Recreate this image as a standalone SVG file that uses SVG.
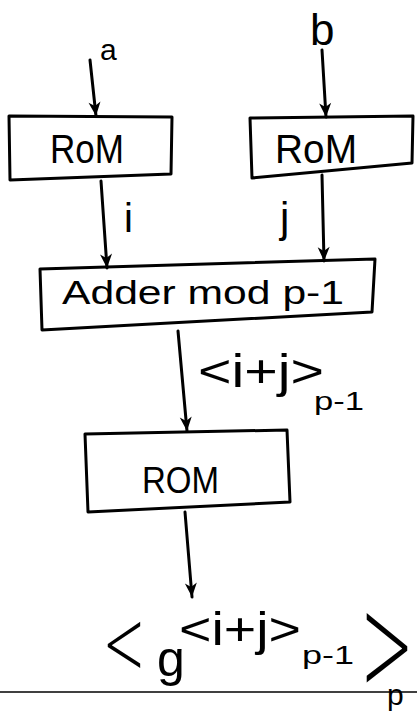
<svg xmlns="http://www.w3.org/2000/svg" width="417" height="713" viewBox="0 0 417 713">
<style>
.box{fill:none;stroke:#000;stroke-width:3;stroke-linejoin:round}
.wire{fill:none;stroke:#000;stroke-width:3;stroke-linecap:round}
.t{font-family:"Liberation Sans","DejaVu Sans",sans-serif;fill:#000}
.br{font-family:"Open Sans","Liberation Sans",sans-serif;font-weight:300;fill:#000}
</style>
<defs>
<marker id="ah" markerUnits="userSpaceOnUse" markerWidth="16" markerHeight="16" viewBox="0 0 16 16" refX="15" refY="8" orient="auto">
<path d="M1,2 L15,8 L1,14 L5,8 Z" fill="#000"/>
</marker>
</defs>
<rect width="417" height="713" fill="#fff"/>
<g id="rom-a">
<polygon class="box" points="9,116 172,117 171,174 10,180"/>
<text class="t" x="50" y="163" font-size="40" textLength="74" lengthAdjust="spacingAndGlyphs">RoM</text>
</g>
<g id="rom-b">
<polygon class="box" points="250,118 413,116 412,163 252,178"/>
<text class="t" x="275" y="163" font-size="40" textLength="82" lengthAdjust="spacingAndGlyphs">RoM</text>
</g>
<g id="adder">
<polygon class="box" points="40,269 375,259 372,312 42,330"/>
<text class="t" x="62" y="304" font-size="34" textLength="282" lengthAdjust="spacingAndGlyphs">Adder mod p-1</text>
</g>
<g id="rom-out">
<polygon class="box" points="85,434 287,430 290,502 88,512"/>
<text class="t" x="142" y="493" font-size="36" textLength="77" lengthAdjust="spacingAndGlyphs">ROM</text>
</g>
<g id="connectors">
<path class="wire" d="M90,60 L96,116" marker-end="url(#ah)"/>
<path class="wire" d="M322,50 L326,117" marker-end="url(#ah)"/>
<path class="wire" d="M101,181 L107,268" marker-end="url(#ah)"/>
<path class="wire" d="M322,175 L324,261" marker-end="url(#ah)"/>
<path class="wire" d="M178,331 L187,431" marker-end="url(#ah)"/>
<path class="wire" d="M185,512 L192,597" marker-end="url(#ah)"/>
</g>
<g id="labels">
<text class="t" x="100" y="60" font-size="30">a</text>
<text class="t" x="310" y="45" font-size="44">b</text>
<text class="t" x="124" y="232" font-size="40">i</text>
<text class="t" x="280" y="232" font-size="42">j</text>
<text class="t" x="198" y="387" font-size="46" textLength="126" lengthAdjust="spacingAndGlyphs">&lt;i+j&gt;</text>
<text class="t" x="314" y="410" font-size="26" textLength="50" lengthAdjust="spacingAndGlyphs">p-1</text>
</g>
<g id="result">
<text class="br" x="104" y="681" font-size="100" textLength="40" lengthAdjust="spacingAndGlyphs">&lt;</text>
<text class="t" x="157" y="676" font-size="50">g</text>
<text class="t" x="179" y="645" font-size="46" textLength="122" lengthAdjust="spacingAndGlyphs">&lt;i+j&gt;</text>
<text class="t" x="302" y="664" font-size="26" textLength="52" lengthAdjust="spacingAndGlyphs">p-1</text>
<text class="br" x="362" y="702" font-size="150" textLength="50" lengthAdjust="spacingAndGlyphs">&gt;</text>
<text class="t" x="387" y="705" font-size="30">p</text>
</g>
<line x1="0" y1="692" x2="417" y2="692" stroke="#000" stroke-width="1.5"/>
</svg>
